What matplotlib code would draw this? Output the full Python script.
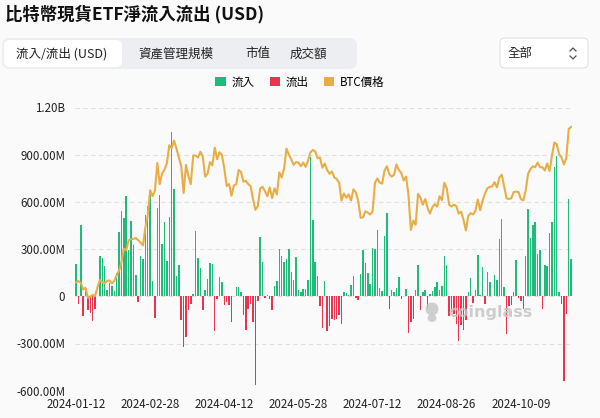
import numpy as np
import pandas as pd
import matplotlib
matplotlib.use("Agg")
import matplotlib.pyplot as plt
from matplotlib.patches import FancyBboxPatch, Patch, Circle, Ellipse

plt.rcParams['font.family'] = ['Noto Sans CJK TC', 'DejaVu Sans']

# US market holidays between the first and last trading day
holidays = ['2024-01-15', '2024-02-19', '2024-03-29', '2024-05-27',
            '2024-06-19', '2024-07-04', '2024-09-02']
dates = pd.bdate_range('2024-01-12', '2024-11-07', freq='C', holidays=holidays)

# net flow per trading day, millions USD
flows = [203, -51, 454, -127, 38, -89, -106, -159, -81, 0,
         253, 244, 195, 38, 85, 64, 32, 148, 407, 541,
         496, 636, 297, 477, 329, 138, -34, 254, 237, 519,
         577, 650, 95, -138, 562, 647, 333, 471, 223, 505,
         1045, 683, 131, 199, -153, -322, -259, -89, -47, 17,
         418, 244, 182, -85, 38, 112, 212, 203, -223, -17,
         123, 91, -53, -36, -57, -163, 5, 59, 59, 30,
         -119, -216, -81, -51, -161, -562, -30, 379, 218, -13,
         11, -15, -85, 64, 100, 303, 254, 218, 237, 303,
         153, 106, 250, 42, 30, 47, 47, 106, 886, 488,
         216, 131, -64, -199, 100, -223, -191, -144, -153, -142,
         -117, -174, 30, 21, 8, 72, 131, -13, -21, 144,
         293, 212, 148, 81, 310, 301, 424, 53, 36, 386,
         530, -78, 42, 30, 51, 123, -17, 0, 47, -233,
         -165, -144, 42, 201, -89, 30, 38, -81, 13, 32,
         59, 89, 42, 64, 254, 201, -123, -97, -110, -174,
         -284, -182, -212, -148, 30, 117, -42, 38, 263, 11,
         187, -51, 157, 93, 4, 138, 106, 367, 494, 59,
         -240, -60, -54, 25, 233, -13, -27, -81, 254, 556,
         373, 454, 471, 271, 297, -78, 201, 191, 403, 473,
         821, 893, 30, -51, -541, -113, 621, 235]

# BTC price, thousand USD
btc = [42.8, 43.1, 42.7, 41.3, 41.6, 39.5, 39.8, 40.1, 39.9, 41.8,
       43.3, 42.9, 42.6, 43.1, 43.2, 42.6, 43.1, 44.3, 45.3, 47.1,
       50.0, 49.7, 51.8, 52.0, 52.1, 52.3, 51.8, 51.3, 50.7, 54.5,
       57.0, 62.5, 61.2, 62.4, 68.3, 63.8, 66.1, 66.9, 68.3, 72.1,
       71.5, 73.1, 71.4, 69.5, 67.6, 61.9, 67.9, 65.5, 63.8, 69.9,
       69.9, 69.5, 70.7, 69.7, 65.4, 66.0, 68.5, 67.8, 71.6, 69.1,
       70.6, 70.0, 67.2, 63.4, 63.8, 61.3, 63.5, 63.8, 66.8, 66.4,
       64.3, 64.5, 63.8, 63.4, 60.6, 58.3, 59.1, 62.9, 63.2, 62.3,
       61.2, 63.1, 60.8, 62.9, 61.6, 66.3, 65.2, 67.1, 71.4, 70.1,
       69.1, 67.9, 68.5, 68.4, 67.6, 68.4, 67.5, 68.8, 70.6, 71.1,
       70.8, 69.3, 69.5, 67.3, 68.2, 66.8, 66.0, 66.5, 65.2, 64.9,
       64.1, 60.3, 61.8, 60.9, 61.6, 60.3, 62.7, 62.0, 60.2, 56.6,
       56.7, 58.0, 57.7, 57.3, 57.9, 64.1, 65.0, 64.1, 63.9, 66.7,
       67.6, 65.9, 65.4, 65.8, 68.0, 66.8, 66.2, 64.6, 65.4, 61.5,
       54.0, 56.0, 55.1, 61.7, 60.9, 59.4, 60.6, 58.7, 57.5, 58.9,
       59.5, 59.0, 61.2, 60.4, 64.1, 62.9, 59.4, 59.0, 59.4, 59.1,
       57.5, 57.9, 56.2, 53.9, 57.0, 57.6, 57.3, 58.1, 60.5, 58.2,
       60.3, 61.8, 62.9, 63.2, 63.3, 64.2, 63.1, 65.2, 65.8, 63.3,
       60.8, 60.6, 60.8, 62.1, 62.2, 62.1, 60.6, 60.3, 62.4, 66.0,
       67.0, 67.6, 67.4, 68.4, 67.4, 67.4, 66.7, 68.2, 66.6, 69.9,
       72.7, 72.3, 70.2, 69.5, 68.0, 69.4, 75.6, 76.0]

yticks = [-600, -300, 0, 300, 600, 900, 1200]
ylabels = ['-600.00M', '-300.00M', '0', '300.00M', '600.00M', '900.00M', '1.20B']
tabs = ['流入/流出 (USD)', '資產管理規模', '市值', '成交額']

GREEN = '#1fbb7b'
RED = '#e8344f'
GOLD = '#e8ae45'
BG = '#fafafa'

fig = plt.figure(figsize=(6, 4.18), dpi=100, facecolor=BG)

# header drawn in pixel coordinates
bg = fig.add_axes([0, 0, 1, 1])
bg.set_xlim(0, 600)
bg.set_ylim(418, 0)
bg.axis('off')

fig.text(5 / 600, 1 - 14 / 418, '比特幣現貨ETF淨流入流出 (USD)', fontsize=12.5,
         fontweight='bold', va='center', ha='left', color='#111')

bg.add_patch(FancyBboxPatch((2, 38), 355, 31, boxstyle='round,pad=0,rounding_size=8',
                            fc='#eceef1', ec='none'))
bg.add_patch(FancyBboxPatch((4, 40), 118, 27, boxstyle='round,pad=0,rounding_size=6',
                            fc='white', ec='none'))
for label, cx in zip(tabs, [62, 176, 258, 308]):
    bg.text(cx, 54, label, fontsize=9, ha='center', va='center', color='#222')

bg.add_patch(FancyBboxPatch((500, 38), 88, 30, boxstyle='round,pad=0,rounding_size=5',
                            fc='white', ec='#e2e2e2', lw=0.8))
bg.text(508, 53, '全部', fontsize=9, ha='left', va='center', color='#222')
bg.plot([570, 573, 576], [51, 48, 51], color='#555', lw=0.9)
bg.plot([570, 573, 576], [56, 59, 56], color='#555', lw=0.9)

# main chart
ax = fig.add_axes([74.8 / 600, 1 - 390.7 / 418, (572.3 - 74.8) / 600, (390.7 - 107.5) / 418])
ax.set_facecolor('none')
x = np.arange(len(flows))
vals = np.array(flows, dtype=float)
ax.bar(x, np.where(vals > 0, vals, 0), width=0.62, color=GREEN, zorder=3)
ax.bar(x, np.where(vals < 0, vals, 0), width=0.62, color=RED, zorder=3)
ax.set_xlim(-0.5, len(flows) - 0.5)
ax.set_ylim(-600, 1200)
ax.set_yticks(yticks)
ax.set_yticklabels(ylabels)
ax.set_xticks(x[::31])
ax.set_xticklabels([d.strftime('%Y-%m-%d') for d in dates[::31]])
ax.tick_params(length=0, labelsize=8.3, colors='#222')
ax.tick_params(axis='y', pad=7)
ax.tick_params(axis='x', pad=5)
ax.grid(axis='y', color='#e0e0e0', lw=0.8, linestyle=(0, (4, 3)), zorder=0)
for s in ax.spines.values():
    s.set_visible(False)

ax2 = ax.twinx()
ax2.plot(x, btc, color=GOLD, lw=1.5, zorder=4)
ax2.set_ylim(19.65, 80.17)
ax2.set_yticks([])
for s in ax2.spines.values():
    s.set_visible(False)

# watermark over the bars
wm = fig.add_axes([0, 0, 1, 1])
wm.set_xlim(0, 600)
wm.set_ylim(418, 0)
wm.axis('off')
wm.patch.set_alpha(0)
wm.add_patch(Circle((432, 309), 6.5, fc='#c8c8c8', ec='none', alpha=0.85))
wm.add_patch(Ellipse((432, 318), 9, 8, fc='#c8c8c8', ec='none', alpha=0.85))
wm.text(448, 312, 'coinglass', fontsize=11.5, fontweight='bold', color='#c4c4c4',
        alpha=0.85, ha='left', va='center', family='DejaVu Sans')

handles = [Patch(facecolor=GREEN), Patch(facecolor=RED), Patch(facecolor=GOLD)]
fig.legend(handles, ['流入', '流出', 'BTC價格'], loc='center', bbox_to_anchor=(0.5, 1 - 82 / 418),
           ncol=3, frameon=False, fontsize=8.3, handlelength=0.9, handleheight=0.7,
           handletextpad=0.5, columnspacing=1.3)

fig.savefig('out.png', dpi=100, facecolor=BG)
